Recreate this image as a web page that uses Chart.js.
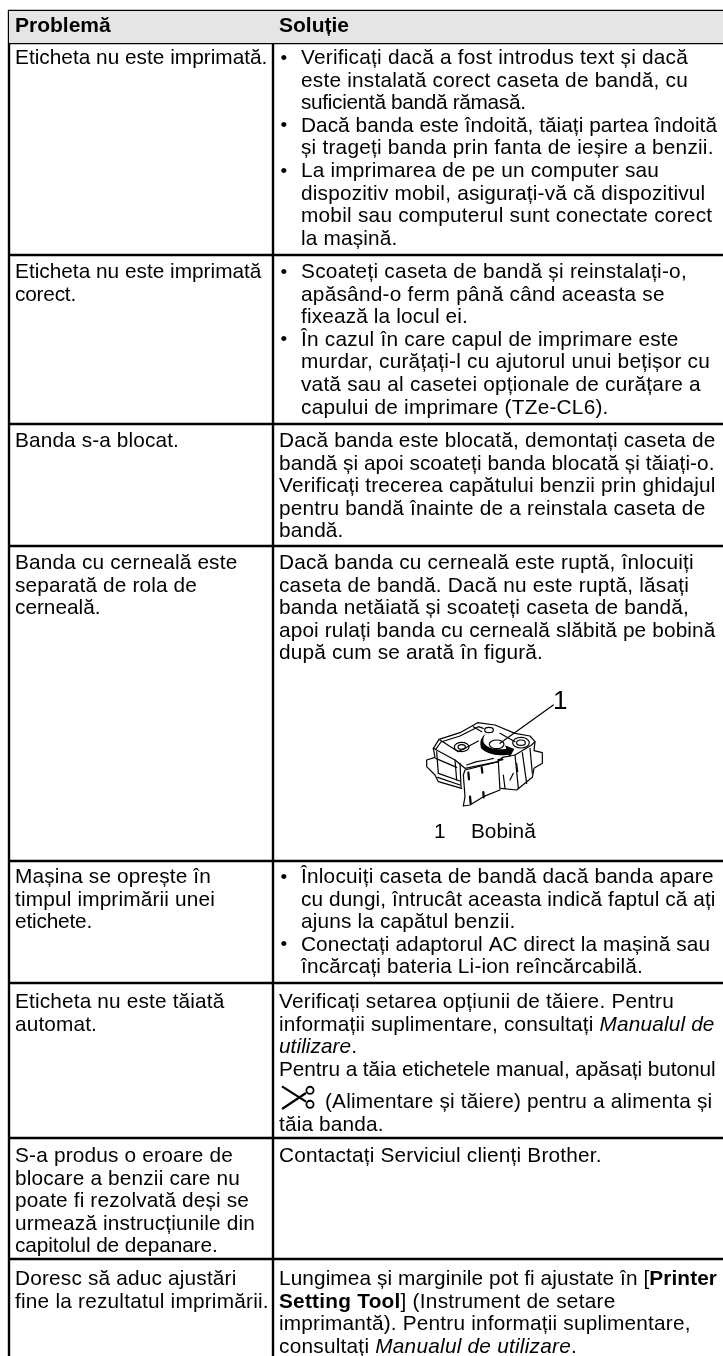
<!DOCTYPE html>
<html lang="ro"><head><meta charset="utf-8">
<style>html,body{margin:0;padding:0;background:#fff}canvas{display:block}</style>
<script src="https://cdn.jsdelivr.net/npm/chart.js@4"></script>
</head><body><canvas id="c" width="723" height="1356"></canvas>
<script>
const headers = ["Problemă", "Soluție"];
const problems = [
 ["Eticheta nu este imprimată."],
 ["Eticheta nu este imprimată","corect."],
 ["Banda s-a blocat."],
 ["Banda cu cerneală este","separată de rola de","cerneală."],
 ["Mașina se oprește în","timpul imprimării unei","etichete."],
 ["Eticheta nu este tăiată","automat."],
 ["S-a produs o eroare de","blocare a benzii care nu","poate fi rezolvată deși se","urmează instrucțiunile din","capitolul de depanare."],
 ["Doresc să aduc ajustări","fine la rezultatul imprimării."]
];
const solutions = [
 ["• Verificați dacă a fost introdus text și dacă","> este instalată corect caseta de bandă, cu","> suficientă bandă rămasă.","• Dacă banda este îndoită, tăiați partea îndoită","> și trageți banda prin fanta de ieșire a benzii.","• La imprimarea de pe un computer sau","> dispozitiv mobil, asigurați-vă că dispozitivul","> mobil sau computerul sunt conectate corect","> la mașină."],
 ["• Scoateți caseta de bandă și reinstalați-o,","> apăsând-o ferm până când aceasta se","> fixează la locul ei.","• În cazul în care capul de imprimare este","> murdar, curățați-l cu ajutorul unui bețișor cu","> vată sau al casetei opționale de curățare a","> capului de imprimare (TZe-CL6)."],
 ["Dacă banda este blocată, demontați caseta de","bandă și apoi scoateți banda blocată și tăiați-o.","Verificați trecerea capătului benzii prin ghidajul","pentru bandă înainte de a reinstala caseta de","bandă."],
 ["Dacă banda cu cerneală este ruptă, înlocuiți","caseta de bandă. Dacă nu este ruptă, lăsați","banda netăiată și scoateți caseta de bandă,","apoi rulați banda cu cerneală slăbită pe bobină","după cum se arată în figură."],
 ["• Înlocuiți caseta de bandă dacă banda apare","> cu dungi, întrucât aceasta indică faptul că ați","> ajuns la capătul benzii.","• Conectați adaptorul AC direct la mașină sau","> încărcați bateria Li-ion reîncărcabilă."],
 ["Verificați setarea opțiunii de tăiere. Pentru","informații suplimentare, consultați *Manualul de*","*utilizare*.","Pentru a tăia etichetele manual, apăsați butonul","^(Alimentare și tăiere) pentru a alimenta și","tăia banda."],
 ["Contactați Serviciul clienți Brother."],
 ["Lungimea și marginile pot fi ajustate în [**Printer**","**Setting Tool**] (Instrument de setare","imprimantă). Pentru informații suplimentare,","consultați *Manualul de utilizare*."]
];
const figureNumber = "1";
const figureCaption = ["1", "Bobină"];
const rowEdges = [11, 43, 255, 424, 546, 861, 983, 1138, 1259];
const colEdges = [9, 273];
const firstBaselines = [64, 278, 447, 569, 883, 1008, 1162, 1285];

// layout: where each text line ends in the reference
const problemEnds = [[267.4],[261.4,76],[179],[237.4,197,100.5],[211,215,92],[224.5,97],[233,240,249,255,217.6],[236.5,268.8]];
const solutionEnds = [
 [688,688,525.6,717,713.7,659,705.4,712.3,397.4],
 [687,664.8,468,678.6,710,700.8,608.6],
 [715.5,714.6,715.5,705.4,343.5],
 [693.9,689,689,715.5,543],
 [713.7,715.5,515.4,710,643],
 [674,714.6,357,715.5,712.3,383.6],
 [601.7],
 [717,615.5,690.6,577]
];
const W = 723, H = 1356, PITCH = 22.6, FS = 20.8, INK = "#000";
const X1 = 15, X2 = 279, XB = 280.5, XI = 301, XICON = 325;
const gapAfter = {5: {3: 10}};
const FONT = '"Liberation Sans", Arial, sans-serif';

function parseRuns(s) {
  return s.split(/(\*\*[^*]+\*\*|\*[^*]+\*)/).filter(Boolean).map(p => {
    if (p.startsWith("**")) return {style: "bold ", t: p.slice(2, -2)};
    if (p.startsWith("*")) return {style: "italic ", t: p.slice(1, -1)};
    return {style: "", t: p};
  });
}
function drawRuns(ctx, s, x, y, endX) {
  const runs = parseRuns(s);
  ctx.letterSpacing = "0px";
  let natural = 0, chars = 0;
  for (const r of runs) { ctx.font = r.style + FS + "px " + FONT; natural += ctx.measureText(r.t).width; chars += r.t.length; }
  const ls = (endX - x - natural) / chars;
  ctx.letterSpacing = ls.toFixed(3) + "px";
  for (const r of runs) {
    ctx.font = r.style + FS + "px " + FONT;
    ctx.fillText(r.t, x, y);
    x += ctx.measureText(r.t).width;
  }
  ctx.letterSpacing = "0px";
}
function stroke(ctx, pts, sx, sy, close) {
  ctx.beginPath();
  pts.forEach((p, i) => { const X = sx(p[0]), Y = sy(p[1]); i ? ctx.lineTo(X, Y) : ctx.moveTo(X, Y); });
  if (close) ctx.closePath();
  ctx.stroke();
}
const textPlugin = {
  id: "tableText",
  afterDatasetsDraw(chart) {
    const ctx = chart.ctx, px = chart.scales.x, py = chart.scales.y;
    const sx = v => px.getPixelForValue(v), sy = v => py.getPixelForValue(v);
    ctx.save();
    ctx.fillStyle = INK; ctx.textBaseline = "alphabetic"; ctx.textAlign = "left";
    ctx.font = "bold 21px " + FONT;
    ctx.fillText(headers[0], sx(X1), sy(31.5));
    ctx.fillText(headers[1], sx(X2), sy(31.5));
    problems.forEach((lines, r) => {
      lines.forEach((l, i) => drawRuns(ctx, l, sx(X1), sy(firstBaselines[r] + i * PITCH), sx(problemEnds[r][i])));
    });
    solutions.forEach((lines, r) => {
      let extra = 0;
      lines.forEach((l, i) => {
        const y = sy(firstBaselines[r] + i * PITCH + extra), end = sx(solutionEnds[r][i]);
        if (l.startsWith("• ")) {
          ctx.font = "19px " + FONT; ctx.fillText("•", sx(XB), y - 0.5);
          drawRuns(ctx, l.slice(2), sx(XI), y, end);
        }
        else if (l.startsWith("> ")) drawRuns(ctx, l.slice(2), sx(XI), y, end);
        else if (l.startsWith("^")) drawRuns(ctx, l.slice(1), sx(XICON), y, end);
        else drawRuns(ctx, l, sx(X2), y, end);
        if (gapAfter[r] && gapAfter[r][i]) extra += gapAfter[r][i];
      });
    });
    ctx.font = FS + "px " + FONT;
    ctx.fillText(figureCaption[0], sx(434), sy(838));
    ctx.fillText(figureCaption[1], sx(471), sy(838));
    ctx.font = "26px " + FONT;
    ctx.fillText(figureNumber, sx(553), sy(709));

    // cassette illustration
    const cx = v => 415 + v / 3, cy = v => 680 + v / 3;
    const fx = v => sx(cx(v)), fy = v => sy(cy(v));
    ctx.strokeStyle = "#000"; ctx.lineJoin = "round"; ctx.lineCap = "round"; ctx.lineWidth = 1.2;
    const outlines = [
      [[55,205],[72,178],[135,158],[188,128],[240,135],[300,160],[345,168],[360,185],[357,212],[382,218],[382,250],[357,265],[352,292],[305,330],[258,325]],
      [[62,208],[78,186],[135,168],[190,140],[205,145]],
      [[55,205],[60,232],[35,240],[35,260],[60,285],[70,305],[140,325]],
      [[55,205],[120,240],[150,265],[250,245],[262,232],[300,225],[350,195],[360,185]],
      [[62,235],[125,262]],[[65,215],[70,280]],[[70,280],[135,303]],[[68,292],[135,315]],
      [[120,240],[125,300]],[[135,250],[138,322]],
      [[145,285],[150,350],[145,378],[165,375],[205,350],[255,330],[250,245],[150,270],[145,285]],
      [[155,255],[185,245],[215,240],[235,235]],
      [[175,140],[200,155]],[[255,160],[300,185]],
      [[300,225],[310,325]],[[322,218],[335,310]],[[345,205],[352,280]],
      [[265,285],[270,325]],[[285,300],[295,280]],[[305,250],[308,275]],
      [[75,180],[130,215],[190,183]]
    ];
    outlines.forEach(o => stroke(ctx, o, fx, fy));
    const ell = (x, y, rx, ry) => { ctx.beginPath(); ctx.ellipse(fx(x), fy(y), rx / 3, ry / 3, 0, 0, Math.PI * 2); ctx.stroke(); };
    ell(140, 201, 22, 14); ell(140, 201, 11, 7);
    ell(318, 188, 25, 16); ell(318, 188, 13, 8);
    ell(245, 193, 22, 13); ell(222, 150, 13, 8);
    // winding arrow
    ctx.fillStyle = "#000";
    ctx.beginPath();
    ctx.moveTo(fx(214), fy(160));
    ctx.quadraticCurveTo(fx(190), fy(175), fx(198), fy(205));
    ctx.quadraticCurveTo(fx(225), fy(232), fx(280), fy(224));
    ctx.lineTo(fx(284), fy(232)); ctx.lineTo(fx(298), fy(207)); ctx.lineTo(fx(270), fy(196)); ctx.lineTo(fx(274), fy(206));
    ctx.quadraticCurveTo(fx(225), fy(214), fx(207), fy(190));
    ctx.quadraticCurveTo(fx(200), fy(175), fx(214), fy(160));
    ctx.closePath(); ctx.fill();
    // thick marks on flap
    ctx.lineWidth = 2.2;
    [[[160,278],[162,298]],[[200,262],[202,278]],[[165,350],[167,370]],[[205,336],[206,352]],[[250,240],[262,238]]].forEach(o => stroke(ctx, o, fx, fy));
    // leader line
    ctx.lineWidth = 1.2;
    stroke(ctx, [[255,190],[415,75]], fx, fy);

    // feed & cut icon
    const gx = v => sx(270 + v / 3), gy = v => sy(1085 + v / 3);
    ctx.lineWidth = 2.2; ctx.lineCap = "butt"; ctx.strokeStyle = "#000";
    stroke(ctx, [[36,4],[108,50]], gx, gy);
    stroke(ctx, [[36,72],[108,24]], gx, gy);
    ctx.lineWidth = 1.8;
    ctx.beginPath(); ctx.arc(gx(120), gy(16), 3.6, 0, Math.PI * 2); ctx.stroke();
    ctx.beginPath(); ctx.arc(gx(120), gy(58), 3.6, 0, Math.PI * 2); ctx.stroke();
    ctx.restore();
  }
};
const ruleStyle = { type: "line", borderColor: "#000", pointRadius: 0, tension: 0, fill: false, borderCapStyle: "butt" };
const datasets = [
  { type: "line", data: [{x: colEdges[0], y: rowEdges[1]}, {x: W, y: rowEdges[1]}], fill: {value: rowEdges[0]}, backgroundColor: "#e5e5e5", borderWidth: 0, pointRadius: 0 },
  ...rowEdges.map(y => ({ ...ruleStyle, borderWidth: 2.6, data: [{x: colEdges[0] - 1, y}, {x: W, y}] })),
  ...colEdges.map(x => ({ ...ruleStyle, borderWidth: 2.4, data: [{x, y: rowEdges[0] - 1}, {x, y: H}] }))
];
new Chart(document.getElementById("c"), {
  type: "scatter",
  data: { datasets },
  plugins: [textPlugin],
  options: {
    responsive: false, animation: false, events: [],
    layout: { padding: 0 },
    plugins: { legend: { display: false }, tooltip: { enabled: false }, title: { display: false } },
    scales: {
      x: { type: "linear", min: 0, max: W, display: false },
      y: { type: "linear", min: 0, max: H, reverse: true, display: false }
    }
  }
});
</script></body></html>
